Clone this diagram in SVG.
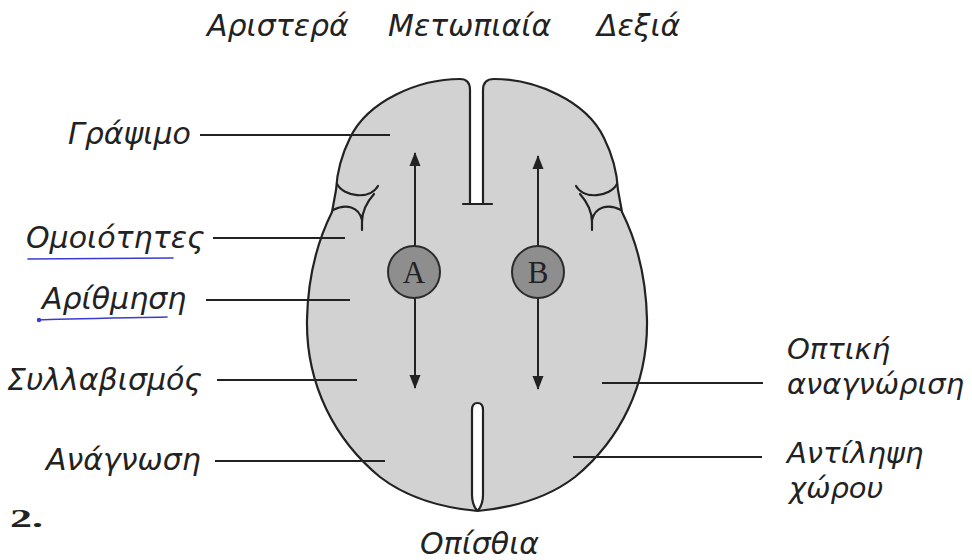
<svg xmlns="http://www.w3.org/2000/svg" width="972" height="560" viewBox="0 0 972 560">
  <style>
    .lbl { font-family: "DejaVu Sans", "Noto Sans", sans-serif; font-style: oblique; font-size: 30px; fill: #222; }
    .lbl2 { font-family: "DejaVu Sans", "Noto Sans", sans-serif; font-style: oblique; font-size: 29px; fill: #222; }
    .lead { stroke: #222; stroke-width: 2; fill: none; }
    .outline { stroke: #222; stroke-width: 2.2; fill: none; stroke-linejoin: round; stroke-linecap: round; }
    .fill { fill: #d2d2d2; stroke: none; }
    .axis { stroke: #222; stroke-width: 2; fill: none; }
    .disc { fill: #8e8e8e; stroke: #2a2a2a; stroke-width: 2; }
    .disc-txt { font-family: "Liberation Serif", serif; font-size: 31px; fill: #222; text-anchor: middle; }
    .pen { stroke: #3b3bd0; stroke-width: 1.6; fill: none; stroke-linecap: round; }
  </style>
  <defs>
    <marker id="tip" viewBox="0 0 14 12" refX="13" refY="6" markerWidth="7" markerHeight="6" orient="auto-start-reverse" markerUnits="strokeWidth">
      <path d="M0,0.5 L14,6 L0,11.5 Z" fill="#222"/>
    </marker>
  </defs>
  <rect width="972" height="560" fill="#ffffff"/>

  <!-- orientation labels -->
  <g id="orientation">
    <text class="lbl" x="207" y="36">Αριστερά</text>
    <text class="lbl" x="388" y="36">Μετωπιαία</text>
    <text class="lbl" x="597" y="36">Δεξιά</text>
    <text class="lbl" x="420" y="554">Οπίσθια</text>
  </g>

  <!-- brain, seen from above -->
  <g id="brain">
    <path class="fill" d="M470,204 L470,90 Q470,79 460,79 C420,79 368,100 350,138 C341,156 337,172 336,190 L332,212 C320,236 308,270 307,320 C306,385 335,440 380,477 C410,500 445,508 477,511 C510,508 545,500 575,477 C620,440 648,385 647,320 C646,270 634,236 622,212 L618,190 C617,172 613,156 604,138 C586,100 534,79 494,79 Q483,79 483,90 L483,204 Z"/>
    <path fill="#ffffff" d="M472,495 L472,410 Q472,403 477.5,403 Q483,403 483,410 L483,495 Q483,505 477.5,511 Q472,505 472,495 Z"/>
    <path class="outline" d="M463,204 L492,204 M470,204 L470,90 Q470,79 460,79 C420,79 368,100 350,138 C341,156 337,172 336,190 L332,212 C320,236 308,270 307,320 C306,385 335,440 380,477 C410,500 445,508 477.5,511 Q472,505 472,495 L472,410 Q472,403 477.5,403 Q483,403 483,410 L483,495 Q483,505 477.5,511 C510,508 545,500 575,477 C620,440 648,385 647,320 C646,270 634,236 622,212 L618,190 C617,172 613,156 604,138 C586,100 534,79 494,79 Q483,79 483,90 L483,204"/>
    <!-- lateral folds -->
    <path class="outline" d="M337,184 C344,197 370,200 378,186 M333,210 C346,203 359,207 362,220 L362,230 M374,194 C366,203 362,212 362,222"/>
    <path class="outline" d="M617,184 C610,197 584,200 576,186 M621,210 C608,203 595,207 592,220 L592,230 M580,194 C588,203 592,212 592,222"/>
  </g>

  <!-- hemisphere axes -->
  <g id="axes">
    <line class="axis" x1="415" y1="246" x2="415" y2="153" marker-end="url(#tip)"/>
    <line class="axis" x1="415" y1="298" x2="415" y2="388" marker-end="url(#tip)"/>
    <line class="axis" x1="538" y1="246" x2="538" y2="156" marker-end="url(#tip)"/>
    <line class="axis" x1="538" y1="298" x2="538" y2="389" marker-end="url(#tip)"/>
  </g>

  <g id="node-a">
    <circle class="disc" cx="414" cy="272" r="26"/>
    <text class="disc-txt" x="414" y="283">A</text>
  </g>
  <g id="node-b">
    <circle class="disc" cx="538" cy="272" r="26"/>
    <text class="disc-txt" x="538" y="283">B</text>
  </g>

  <!-- leader lines -->
  <g id="connectors">
    <line class="lead" x1="200" y1="135" x2="390" y2="135"/>
    <line class="lead" x1="213" y1="238" x2="345" y2="238"/>
    <line class="lead" x1="206" y1="300" x2="350" y2="300"/>
    <line class="lead" x1="217" y1="380" x2="357" y2="380"/>
    <line class="lead" x1="215" y1="461" x2="385" y2="461"/>
    <line class="lead" x1="602" y1="383" x2="763" y2="383"/>
    <line class="lead" x1="573" y1="457" x2="762" y2="457"/>
  </g>

  <!-- left hemisphere functions -->
  <g id="label-grapsimo"><text class="lbl" x="68" y="144">Γράψιμο</text></g>
  <g id="label-omoiotites"><text class="lbl" x="26" y="248">Ομοιότητες</text></g>
  <g id="label-arithmisi"><text class="lbl" x="42" y="309">Αρίθμηση</text></g>
  <g id="label-syllabismos"><text class="lbl" x="7" y="390">Συλλαβισμός</text></g>
  <g id="label-anagnosi"><text class="lbl" x="46" y="470">Ανάγνωση</text></g>

  <!-- right hemisphere functions -->
  <g id="label-optiki">
    <text class="lbl2"><tspan x="787" y="359">Οπτική</tspan><tspan x="787" y="394">αναγνώριση</tspan></text>
  </g>
  <g id="label-antilipsi">
    <text class="lbl2"><tspan x="787" y="463">Αντίληψη</tspan><tspan x="789" y="498">χώρου</tspan></text>
  </g>

  <!-- pen underlines -->
  <path class="pen" d="M28,259 L173,258"/>
  <path class="pen" d="M38,320 C60,319 120,318 167,317"/>
  <circle cx="39" cy="320" r="2.2" fill="#3b3bd0"/>

  <text x="10" y="527" font-family="Liberation Serif, serif" font-weight="bold" font-size="26" fill="#222" textLength="33" lengthAdjust="spacingAndGlyphs">2.</text>
</svg>
